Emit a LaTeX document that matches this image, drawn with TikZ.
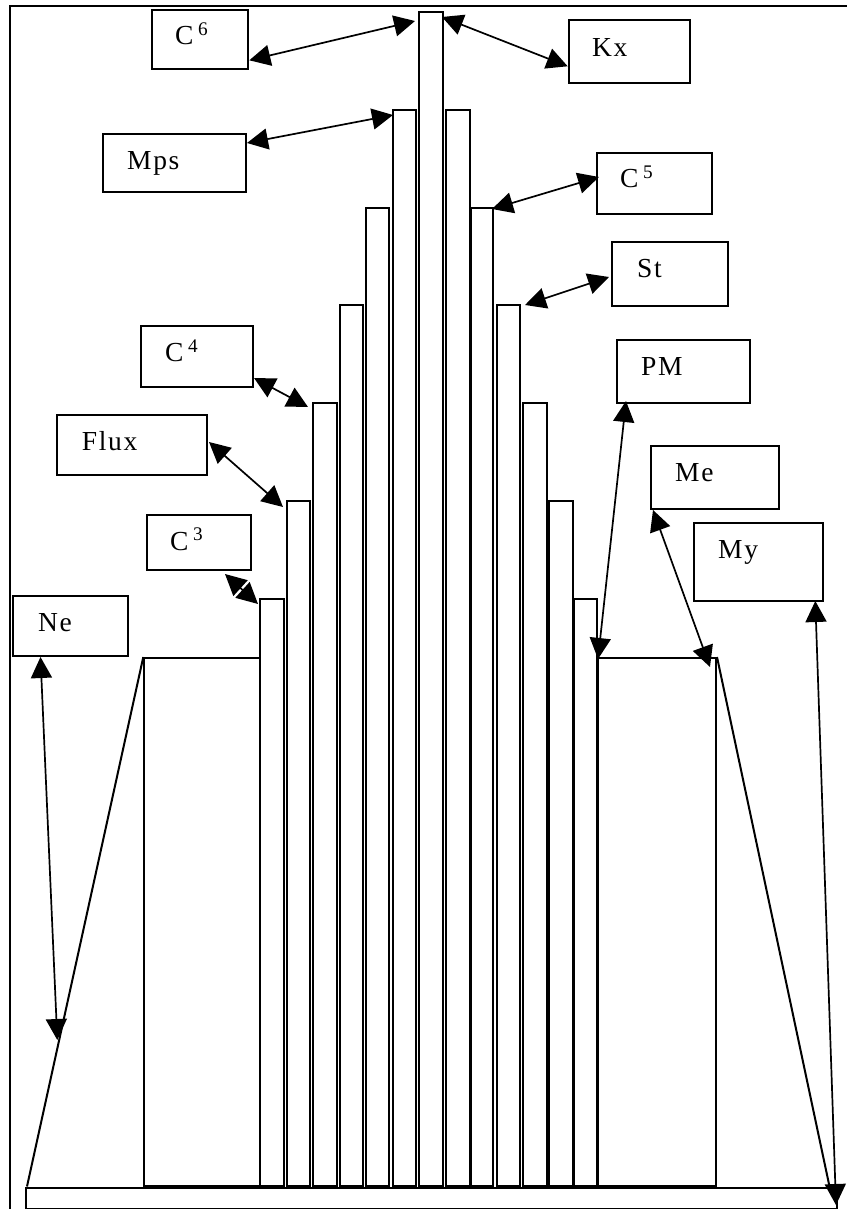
\documentclass[tikz,border=0pt]{standalone}
\usepackage{fontspec}
\setmainfont{Liberation Serif}
\usetikzlibrary{arrows.meta,calc}
\begin{document}
\begin{tikzpicture}[x=1pt,y=-1pt,
  box/.style={draw, line width=2pt, fill=white, anchor=north west, inner sep=0pt},
  lbl/.style={anchor=base west, inner sep=0pt, font=\fontsize{27.5}{32}\selectfont\addfontfeature{LetterSpace=6}},
  bar/.style={draw, line width=2pt, fill=white, anchor=south west, inner sep=0pt},
  dbl/.style={{Triangle[length=21pt,width=21pt]}-{Triangle[length=21pt,width=21pt]}, line width=1.7pt},
  edgeline/.style={line width=2pt}]
\useasboundingbox (0,0) rectangle (846,1209);
\fill[white] (0,0) rectangle (846,1209);
% outer frame
\draw[line width=2pt] (10,6.5) rectangle (870,1230);
% base plate
\node[box, minimum width=811pt, minimum height=21pt] (base) at (25,1187) {};
% side blocks
\node[bar, minimum width=115.7pt, minimum height=527.5pt] (lr) at (143.3,1186.5) {};
\node[bar, minimum width=118pt, minimum height=527.5pt] (rr) at (597,1186.5) {};
% bars
\foreach \i/\xa/\xb/\t in {1/259/282.7/600, 2/285.5/309/502, 3/311.7/336/404, 4/338.5/362/306,
  5/365/388.3/209, 6/391.7/415/111, 7/418.3/442/13, 8/445/468.7/111, 9/470/492/209,
  10/496/518.7/306, 11/521.7/546/404, 12/548/572/502, 13/573.3/596/600}
  \node[bar, minimum width={(\xb-\xa)*1pt}, minimum height={(1186.5-\t)*1pt}] (b\i) at (\xa,1186.5) {};
% slanted sides
\coordinate (bl) at (27,1186.5);
\coordinate (br) at (829.5,1186.5);
\draw[edgeline] (bl) -- (lr.north west);
\draw[edgeline] (rr.north east) -- (br);
% label boxes
\node[box, minimum width=96.6pt, minimum height=59pt] (c6) at (150.7,9.3) {};
\node[box, minimum width=120.9pt, minimum height=63pt] (kx) at (567.7,19.3) {};
\node[box, minimum width=143pt, minimum height=58pt] (mps) at (102,133) {};
\node[box, minimum width=115pt, minimum height=61pt] (c5) at (596,152) {};
\node[box, minimum width=116pt, minimum height=64pt] (st) at (611,241) {};
\node[box, minimum width=112pt, minimum height=61pt] (c4) at (140,325) {};
\node[box, minimum width=150pt, minimum height=60pt] (flux) at (56,414) {};
\node[box, minimum width=104pt, minimum height=55pt] (c3) at (146,514) {};
\node[box, minimum width=115pt, minimum height=60pt] (ne) at (12,595) {};
\node[box, minimum width=133pt, minimum height=63pt] (pm) at (616,339) {};
\node[box, minimum width=128pt, minimum height=63pt] (me) at (650,445) {};
\node[box, minimum width=128.7pt, minimum height=78pt] (my) at (693,522) {};
% texts
\node[lbl] (tc6) at (175,45) {C\,\textsuperscript{6}};
\node[lbl] (tkx) at (592,57) {Kx};
\node[lbl] (tmps) at (127,170) {Mps};
\node[lbl] (tc5) at (620,188) {C\,\textsuperscript{5}};
\node[lbl] (tst) at (637,277) {St};
\node[lbl] (tc4) at (165,361.7) {C\,\textsuperscript{4}};
\node[lbl] (tflux) at (81.7,450) {Flux};
\node[lbl] (tc3) at (170,550) {C\,\textsuperscript{3}};
\node[lbl] (tne) at (38,631.7) {Ne};
\node[lbl] (tpm) at (641,375) {PM};
\node[lbl] (tme) at (675,481.7) {Me};
\node[lbl] (tmy) at (718,558) {My};
% arrow end points at the bars
\coordinate (t1) at (415,21);
\coordinate (t2) at (442,17);
\coordinate (t3) at (393,115);
\coordinate (t4) at (492,209);
\coordinate (t5) at (525,305);
\coordinate (t6) at (308,407);
\coordinate (t7) at (283,507);
\coordinate (t8) at (258,604);
\coordinate (t9) at (57.3,1040);
\coordinate (t10) at (598,659);
\coordinate (t11) at (710,667);
\coordinate (t12) at (836,1205);
% arrows
\draw[dbl] ($(c6.south east)+(0,-10)$) -- (t1);
\draw[dbl] (t2) -- ($(kx.south west)+(0,-18)$);
\draw[dbl] ($(mps.north east)+(0,10)$) -- (t3);
\draw[dbl] (t4) -- ($(c5.north west)+(3,25)$);
\draw[dbl] (t5) -- ($(st.north west)+(-2,36)$);
\draw[dbl] ($(c4.south east)+(0,-10)$) -- (t6);
\draw[dbl] ($(flux.north east)+(1,28)$) -- (t7);
\draw[dbl] ($(c3.south east)+(-27,3)$) -- (t8);
\draw[dbl] ($(ne.south west)+(28.5,0)$) -- (t9);
\draw[dbl] ($(pm.south west)+(10,-3)$) -- (t10);
\draw[dbl] ($(me.south west)+(3,0)$) -- (t11);
\draw[dbl] ($(my.south east)+(-8.4,-1)$) -- (t12);
\end{tikzpicture}
\end{document}
